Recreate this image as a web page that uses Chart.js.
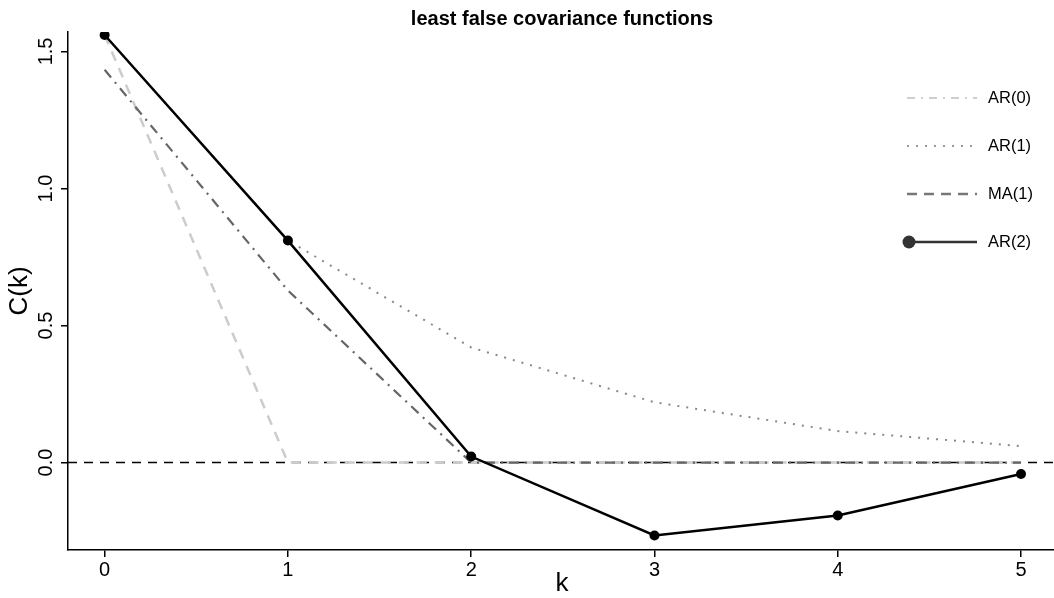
<!DOCTYPE html>
<html>
<head>
<meta charset="utf-8">
<script src="https://cdn.jsdelivr.net/npm/chart.js@4.4.1/dist/chart.umd.min.js"></script>
<style>
  html, body { margin: 0; padding: 0; background: #fff; }
  #wrap { width: 1054px; height: 598px; }
</style>
</head>
<body>
<div id="wrap"><canvas id="myChart" width="1054" height="598"></canvas></div>
<script>
// lags and least false covariances
const lags = [0, 1, 2, 3, 4, 5];
const ar0 = [1.56, 0, 0, 0, 0, 0];
const ar1 = [1.56, 0.81, 0.42, 0.22, 0.115, 0.06];
const ma1 = [1.433, 0.628, 0, 0, 0, 0];
const ar2 = [1.56, 0.81, 0.022, -0.266, -0.193, -0.042];
const xTicks = [0, 1, 2, 3, 4, 5];
const yTicks = [0, 0.5, 1.0, 1.5];
const seriesNames = ['AR(0)', 'AR(1)', 'MA(1)', 'AR(2)'];

const FONT = "'Liberation Sans', Arial, Helvetica, sans-serif";

function toPoints(vals) {
  return lags.map((k, i) => ({ x: k, y: vals[i] }));
}

// legend samples (same look as the original legend box)
const legendStyles = [
  { color: '#cfcfcf', dash: [8, 6, 2, 6], width: 2 },
  { color: '#9a9a9a', dash: [2, 7], width: 2 },
  { color: '#777777', dash: [10, 7], width: 2.5 },
  { color: '#333333', dash: [], width: 2.5, point: true }
];

const rPlot = {
  id: 'rPlot',
  beforeDatasetsDraw(chart) {
    const { ctx, chartArea, scales } = chart;
    const y0 = scales.y.getPixelForValue(0);
    ctx.save();
    ctx.strokeStyle = '#000';
    ctx.lineWidth = 1.6;
    ctx.setLineDash([9, 7]);
    ctx.beginPath();
    ctx.moveTo(chartArea.left, y0);
    ctx.lineTo(chartArea.right, y0);
    ctx.stroke();
    ctx.restore();
  },
  afterDraw(chart) {
    const { ctx, chartArea, scales } = chart;
    const midX = 562;
    const midY = (chartArea.top + chartArea.bottom) / 2;
    ctx.save();
    ctx.fillStyle = '#000';
    ctx.textAlign = 'center';
    ctx.textBaseline = 'middle';

    // title
    ctx.font = 'bold 20px ' + FONT;
    ctx.fillText('least false covariance functions', midX, 19);

    // y tick labels, rotated like R's default las=0
    ctx.font = '20px ' + FONT;
    for (let v of yTicks) {
      const py = scales.y.getPixelForValue(v);
      ctx.save();
      ctx.translate(46, py);
      ctx.rotate(-Math.PI / 2);
      ctx.fillText(v.toFixed(1), 0, 0);
      ctx.restore();
    }

    // axis titles
    ctx.font = '26px ' + FONT;
    ctx.fillText('k', midX, 584);
    ctx.save();
    ctx.translate(20, midY);
    ctx.rotate(-Math.PI / 2);
    ctx.fillText('C(k)', 0, 0);
    ctx.restore();

    // legend
    ctx.font = '16.5px ' + FONT;
    ctx.textAlign = 'left';
    seriesNames.forEach((name, i) => {
      const st = legendStyles[i];
      const ly = 98 + i * 48;
      ctx.save();
      ctx.strokeStyle = st.color;
      ctx.lineWidth = st.width;
      ctx.setLineDash(st.dash);
      ctx.beginPath();
      ctx.moveTo(907, ly);
      ctx.lineTo(977, ly);
      ctx.stroke();
      if (st.point) {
        ctx.fillStyle = st.color;
        ctx.beginPath();
        ctx.arc(909, ly, 6.5, 0, Math.PI * 2);
        ctx.fill();
      }
      ctx.restore();
      ctx.fillText(name, 988, ly);
    });
    ctx.restore();
  }
};

const ctx = document.getElementById('myChart').getContext('2d');

// eslint-disable-next-line no-undef
const chart = new Chart(ctx, {
  type: 'line',
  data: {
    datasets: [
      {
        label: seriesNames[3],
        data: toPoints(ar2),
        borderColor: '#000',
        backgroundColor: '#000',
        borderWidth: 2.5,
        pointRadius: 5,
        pointBorderWidth: 0,
        order: 0
      },
      {
        label: seriesNames[2],
        data: toPoints(ma1),
        borderColor: '#666666',
        borderWidth: 2.2,
        borderDash: [10, 6, 2, 6],
        pointRadius: 0,
        order: 1
      },
      {
        label: seriesNames[1],
        data: toPoints(ar1),
        borderColor: '#888888',
        borderWidth: 2,
        borderDash: [2, 7],
        pointRadius: 0,
        order: 2
      },
      {
        label: seriesNames[0],
        data: toPoints(ar0),
        borderColor: '#cccccc',
        borderWidth: 2.5,
        borderDash: [10, 8],
        pointRadius: 0,
        order: 3
      }
    ]
  },
  options: {
    responsive: false,
    animation: false,
    layout: { autoPadding: false, padding: { top: 32, left: 0, right: 0, bottom: 0 } },
    plugins: {
      legend: { display: false },
      tooltip: { enabled: false },
      title: { display: false }
    },
    scales: {
      x: {
        type: 'linear',
        min: -0.2,
        max: 5.18,
        afterBuildTicks: s => { s.ticks = xTicks.map(v => ({ value: v })); },
        afterFit: s => { s.height = 48; },
        grid: { drawOnChartArea: false, drawTicks: true, tickLength: 7, color: '#000', lineWidth: 1.5 },
        border: { color: '#000', width: 1.5 },
        ticks: {
          font: { family: FONT, size: 20 },
          color: '#000',
          padding: 1,
          maxRotation: 0,
          autoSkip: false,
          callback: v => String(v)
        }
      },
      y: {
        type: 'linear',
        min: -0.319,
        max: 1.571,
        afterBuildTicks: s => { s.ticks = yTicks.map(v => ({ value: v })); },
        afterFit: s => { s.width = 68; },
        grid: { drawOnChartArea: false, drawTicks: true, tickLength: 7, color: '#000', lineWidth: 1.5 },
        border: { color: '#000', width: 1.5 },
        ticks: { display: false }
      }
    }
  },
  plugins: [rPlot]
});
</script>
</body>
</html>
